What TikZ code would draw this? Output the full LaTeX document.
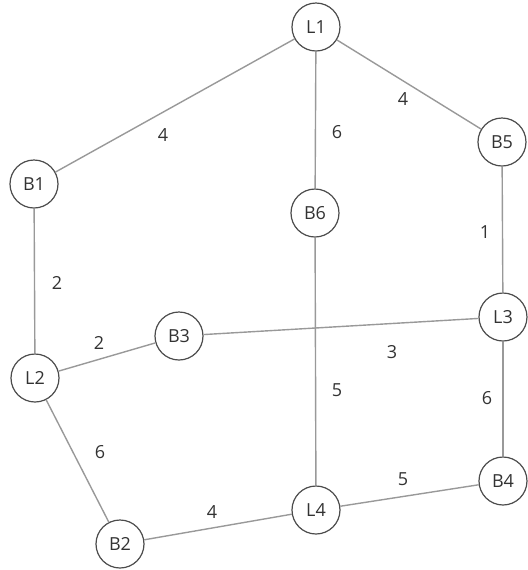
\documentclass[tikz,border=0pt]{standalone}
\usepackage{fontspec}
\setmainfont{Open Sans}
\usetikzlibrary{positioning}
\tikzset{
  nodo/.style = {circle, draw=black!70, line width=0.6pt, fill=white, minimum size=24pt, inner sep=0, font=\fontsize{9}{10}\selectfont, text=black!80},
  link/.style = {draw=black!40, line width=0.7pt},
  et/.style   = {font=\fontsize{9}{10}\selectfont, text=black!80}
}
\begin{document}
\begin{tikzpicture}[x=0.5pt,y=-0.5pt]
  \useasboundingbox (0,0) rectangle (527,570);

  \node[nodo] (L1) at (316, 27) {L1};
  \node[nodo] (B1) at ( 34,184) {B1};
  \node[nodo] (B6) at (315,213) {B6};
  \node[nodo] (B5) at (502,142) {B5};
  \node[nodo] (B3) at (179,336) {B3};
  \node[nodo] (L3) at (503,317) {L3};
  \node[nodo] (L2) at ( 35,378) {L2};
  \node[nodo] (L4) at (316,510) {L4};
  \node[nodo] (B4) at (503,481) {B4};
  \node[nodo] (B2) at (120,544) {B2};

  \draw[link] (L1)--(B1); \node[et] (w1)  at (163,135) {4};
  \draw[link] (L1)--(B6); \node[et] (w2)  at (337,132) {6};
  \draw[link] (L1)--(B5); \node[et] (w3)  at (403, 99) {4};
  \draw[link] (B5)--(L3); \node[et] (w4)  at (485,232) {1};
  \draw[link] (B1)--(L2); \node[et] (w5)  at ( 57,283) {2};
  \draw[link] (L2)--(B3); \node[et] (w6)  at ( 99,343) {2};
  \draw[link] (B3)--(L3); \node[et] (w7)  at (392,352) {3};
  \draw[link] (B6)--(L4); \node[et] (w8)  at (337,390) {5};
  \draw[link] (L3)--(B4); \node[et] (w9)  at (487,398) {6};
  \draw[link] (L2)--(B2); \node[et] (w10) at (100,452) {6};
  \draw[link] (L4)--(B4); \node[et] (w11) at (403,479) {5};
  \draw[link] (B2)--(L4); \node[et] (w12) at (212,512) {4};
\end{tikzpicture}
\end{document}
